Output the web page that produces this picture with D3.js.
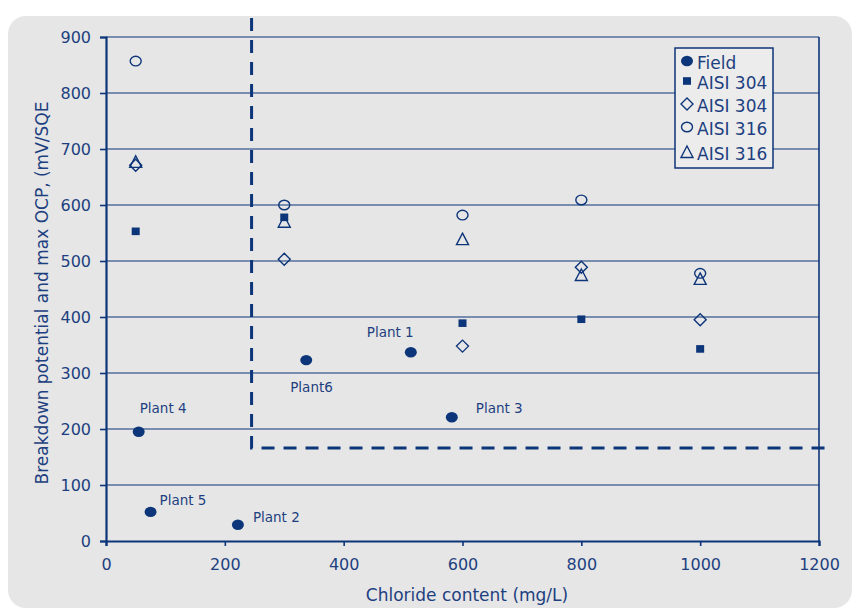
<!DOCTYPE html>
<html><head><meta charset="utf-8">
<script src="https://cdn.jsdelivr.net/npm/d3@7"></script>
<style>body{margin:0;background:#fff;} text{font-family:"DejaVu Sans",sans-serif;}</style>
</head><body>
<svg id="c" width="853" height="612"></svg>
<script>
const xTicks = [0,200,400,600,800,1000,1200];
const yTicks = [0,100,200,300,400,500,600,700,800,900];
const fieldX = [55,75,222,337,513,582];
const fieldY = [195,52,29,323,337,221];
const fieldLabels = ["Plant 4","Plant 5","Plant 2","Plant6","Plant 1","Plant 3"];
const steelX = [50,300,600,800,1000];
const aisi304sq = [553,578,389,396,343];
const aisi304di = [671,503,348,489,395];
const aisi316ci = [857,600,582,609,478];
const aisi316tr = [677,570,539,475,468];
const legendNames = ["Field","AISI 304","AISI 304","AISI 316","AISI 316"];
const limitX = 245, limitY = 166;

const navy = "#0d3579", txt = "#1d3f80";
const FONT = "'DejaVu Sans',sans-serif";
const svg = d3.select("#c");
svg.append("rect").attr("x",8).attr("y",16).attr("width",844).attr("height",592).attr("rx",18).attr("fill","#e6e6e6");

const x = d3.scaleLinear().domain([0,1200]).range([106,819]);
const y = d3.scaleLinear().domain([0,900]).range([541,37]);

// grid
svg.append("g").selectAll("line").data(yTicks.filter(d=>d>0)).join("line")
  .attr("x1",x(0)).attr("x2",x(1200)).attr("y1",d=>y(d)).attr("y2",d=>y(d))
  .attr("stroke",navy).attr("stroke-width",1.2);
// right border
svg.append("line").attr("x1",x(1200)).attr("x2",x(1200)).attr("y1",y(900)).attr("y2",y(0)).attr("stroke",navy).attr("stroke-width",1.6);

const ya = svg.append("g").attr("transform",`translate(${x(0)},0)`)
  .call(d3.axisLeft(y).tickValues(yTicks).tickFormat(d3.format("d")).tickSize(6).tickPadding(9));
const xa = svg.append("g").attr("transform",`translate(0,${y(0)})`)
  .call(d3.axisBottom(x).tickValues(xTicks).tickFormat(d3.format("d")).tickSize(5).tickPadding(10));
[ya,xa].forEach(a=>{
  a.attr("font-family",FONT).attr("font-size",16);
  a.select(".domain").attr("stroke",navy).attr("stroke-width",2.2);
  a.selectAll(".tick line").attr("stroke",navy).attr("stroke-width",1.6);
  a.selectAll(".tick text").attr("fill",txt);
});
xa.selectAll(".tick text").attr("dy","0.85em");

// dashed limit lines
svg.append("path").attr("d",`M${x(limitX)},18 V${y(limitY)} H833`)
  .attr("fill","none").attr("stroke",navy).attr("stroke-width",3).attr("stroke-dasharray","13,9");

// titles
svg.append("text").attr("x",467).attr("y",601).attr("text-anchor","middle").attr("fill",txt).attr("font-size",17).text("Chloride content (mg/L)");
svg.append("text").attr("transform","translate(48,293) rotate(-90)").attr("text-anchor","middle").attr("fill",txt).attr("font-size",17).text("Breakdown potential and max OCP, (mV/SQE");

const sym = {
  circleFill:(g)=>g.append("ellipse").attr("rx",6).attr("ry",5.2).attr("fill",navy),
  square:(g)=>g.append("rect").attr("x",-4).attr("y",-3.8).attr("width",8).attr("height",7.6).attr("fill",navy),
  diamond:(g)=>g.append("path").attr("d","M0,-6L6,0L0,6L-6,0Z").attr("fill","none").attr("stroke",navy).attr("stroke-width",1.4),
  circle:(g)=>g.append("ellipse").attr("rx",5.5).attr("ry",4.8).attr("fill","none").attr("stroke",navy).attr("stroke-width",1.4),
  triangle:(g)=>g.append("path").attr("d","M0,-6L6,5.5L-6,5.5Z").attr("fill","none").attr("stroke",navy).attr("stroke-width",1.4)
};
function plot(xs, ys, kind){
  xs.forEach((xv,i)=>{
    const g = svg.append("g").attr("transform",`translate(${x(xv)},${y(ys[i])})`);
    sym[kind](g);
  });
}
plot(steelX, aisi304sq, "square");
plot(steelX, aisi304di, "diamond");
plot(steelX, aisi316ci, "circle");
plot(steelX, aisi316tr, "triangle");
plot(fieldX, fieldY, "circleFill");

const lblOff = [[1,-19],[9,-7],[15,-3],[-16,32],[-44,-15],[24,-4]];
fieldX.forEach((xv,i)=>{
  svg.append("text").attr("x",x(xv)+lblOff[i][0]).attr("y",y(fieldY[i])+lblOff[i][1]).attr("fill",txt).attr("font-size",13.5).text(fieldLabels[i]);
});

// legend
const lg = svg.append("g");
lg.append("rect").attr("x",675).attr("y",48).attr("width",98).attr("height",120).attr("fill","#ececec").attr("stroke",navy).attr("stroke-width",1.5);
const kinds = ["circleFill","square","diamond","circle","triangle"];
const rowsY = [63,83,106,129,154];
kinds.forEach((k,i)=>{
  const g = lg.append("g").attr("transform",`translate(687,${rowsY[i]-2})`);
  sym[k](g);
  lg.append("text").attr("x",697).attr("y",rowsY[i]+6).attr("fill",txt).attr("font-size",17).text(legendNames[i]);
});
</script>
</body></html>
